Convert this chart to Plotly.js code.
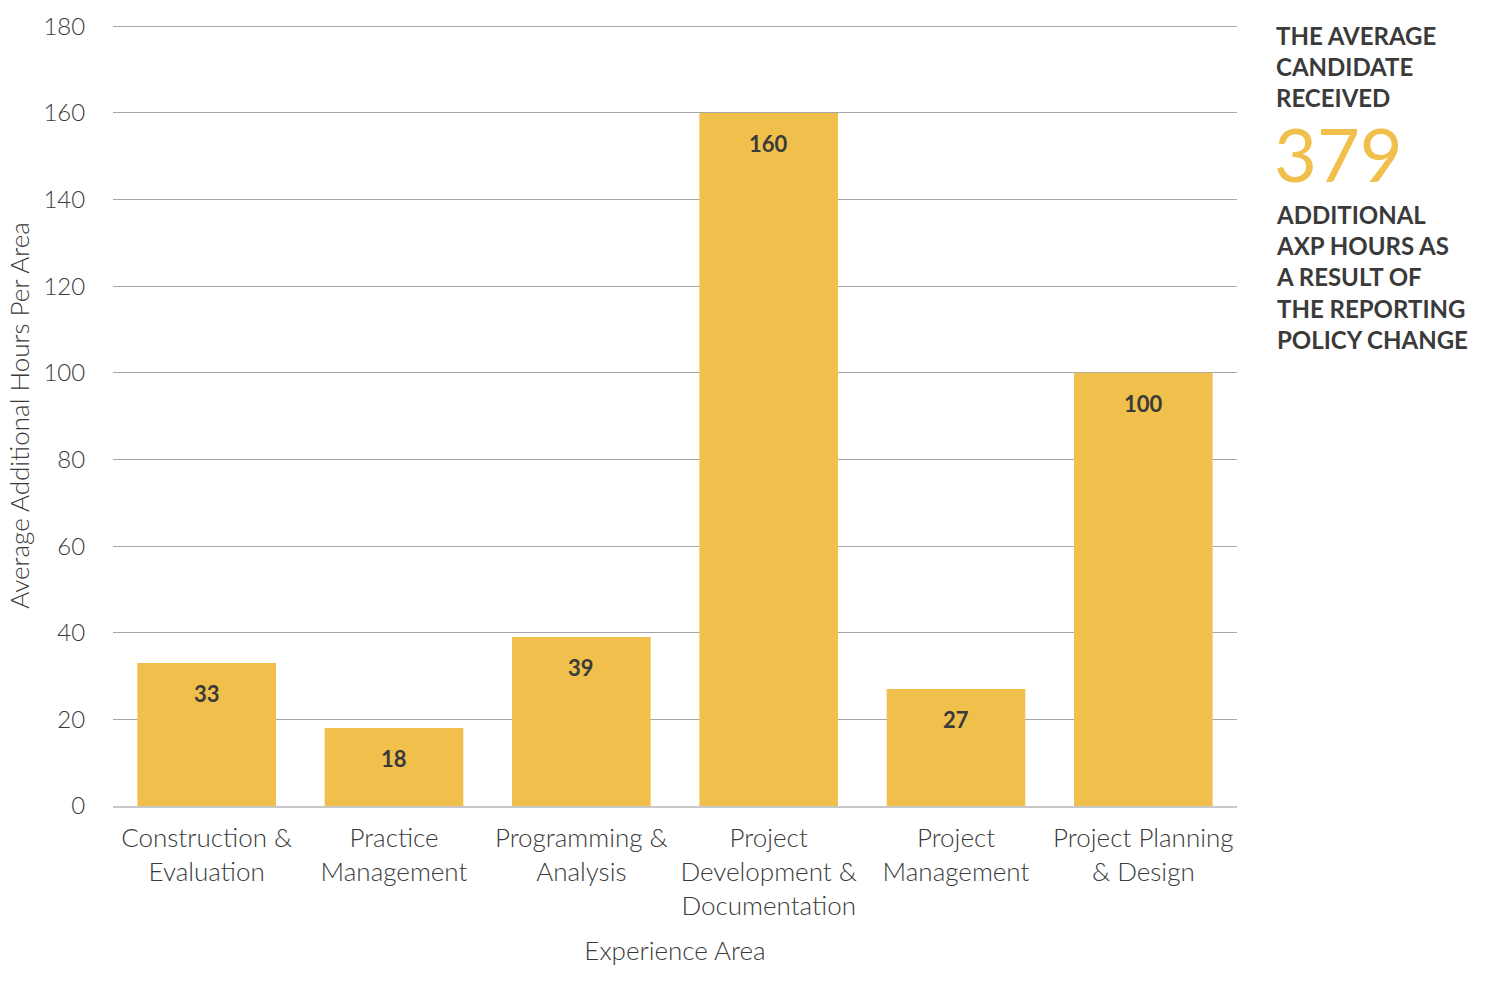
<!DOCTYPE html>
<html>
<head>
<meta charset="utf-8">
<script src="https://cdn.plot.ly/plotly-3.0.1.min.js"></script>
<style>
  html, body { margin: 0; padding: 0; background: #fff; }
  #chart { width: 1500px; height: 988px; }
</style>
</head>
<body>
<div id="chart"></div>
<script>
// Experience areas and average additional AXP hours reported per area
const categories = [
  "Construction &<br>Evaluation",
  "Practice<br>Management",
  "Programming &<br>Analysis",
  "Project<br>Development &<br>Documentation",
  "Project<br>Management",
  "Project Planning<br>& Design"
];
const hours = [33, 18, 39, 160, 27, 100];
const totalHours = 379;

const FONT = "Lato, 'Open Sans', sans-serif";
const INK = "#3a3a3a";
const GOLD = "#F0BF4C";

const trace = {
  type: "bar",
  x: categories,
  y: hours,
  marker: { color: GOLD, line: { width: 0 } },
  hoverinfo: "x+y"
};

// value labels sit just inside the top of each bar
const valueLabels = categories.map((c, i) => ({
  xref: "x", yref: "y",
  x: c, y: hours[i],
  yanchor: "top",
  yshift: -15,
  showarrow: false,
  text: String(hours[i]),
  font: { family: FONT, size: 22, color: INK, weight: 700 }
}));

const sideNote = [
  {
    xref: "paper", yref: "paper",
    x: 1.033, y: 1.008,
    xanchor: "left", yanchor: "top",
    align: "left",
    showarrow: false,
    text: "THE AVERAGE<br>CANDIDATE<br>RECEIVED",
    font: { family: FONT, size: 24, color: INK, weight: 700 }
  },
  {
    xref: "paper", yref: "paper",
    x: 1.031, y: 0.836,
    xanchor: "left", yanchor: "middle",
    align: "left",
    valign: "middle",
    height: 66,
    showarrow: false,
    text: String(totalHours),
    font: { family: FONT, size: 74, color: GOLD, weight: 400 }
  },
  {
    xref: "paper", yref: "paper",
    x: 1.033, y: 0.778,
    xanchor: "left", yanchor: "top",
    align: "left",
    showarrow: false,
    text: "ADDITIONAL<br>AXP HOURS AS<br>A RESULT OF<br>THE REPORTING<br>POLICY CHANGE",
    font: { family: FONT, size: 24, color: INK, weight: 700 }
  }
];

const layout = {
  width: 1500,
  height: 988,
  margin: { l: 113, r: 263, t: 25, b: 182 },
  paper_bgcolor: "#ffffff",
  plot_bgcolor: "#ffffff",
  bargap: 0.26,
  showlegend: false,
  font: { family: FONT, color: INK },
  xaxis: {
    type: "category",
    showgrid: false,
    showline: true,
    linecolor: "#c8c8c8",
    linewidth: 1.5,
    ticks: "outside",
    ticklen: 8,
    tickcolor: "rgba(0,0,0,0)",
    tickfont: { family: FONT, size: 26, color: INK, weight: 300 },
    title: {
      text: "Experience Area",
      font: { family: FONT, size: 26, color: INK, weight: 300 },
      standoff: 22
    }
  },
  yaxis: {
    range: [0, 180.3],
    tick0: 0,
    dtick: 20,
    showgrid: true,
    gridcolor: "#a6a6a6",
    gridwidth: 1.3,
    zeroline: false,
    showline: false,
    ticks: "outside",
    ticklen: 22,
    tickcolor: "rgba(0,0,0,0)",
    tickfont: { family: FONT, size: 24, color: INK, weight: 300 },
    title: {
      text: "Average Additional Hours Per Area",
      font: { family: FONT, size: 26, color: INK, weight: 300 },
      standoff: 6
    }
  },
  annotations: valueLabels.concat(sideNote)
};

Plotly.newPlot("chart", [trace], layout, { displayModeBar: false, responsive: false });
</script>
</body>
</html>
